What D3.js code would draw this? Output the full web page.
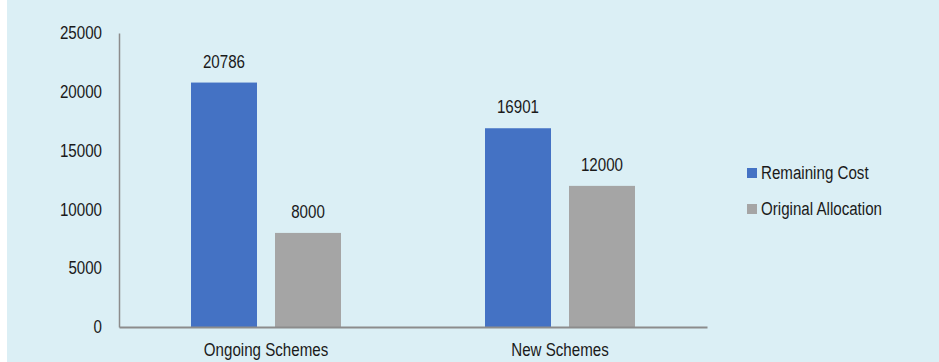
<!DOCTYPE html>
<html>
<head>
<meta charset="utf-8">
<script src="https://cdn.jsdelivr.net/npm/d3@7"></script>
<style>
  html, body { margin: 0; padding: 0; background: #ffffff; }
  svg { display: block; }
  text { font-family: "Liberation Sans Narrow", "Arial Narrow", "Liberation Sans", Arial, sans-serif; fill: #1a1a1a; }
</style>
</head>
<body>
<svg id="chart" width="939" height="362"></svg>
<script>
const categories = ["Ongoing Schemes", "New Schemes"];
const seriesNames = ["Remaining Cost", "Original Allocation"];
const remainingCost = [20786, 16901];
const originalAllocation = [8000, 12000];
const yTicks = [0, 5000, 10000, 15000, 20000, 25000];
const colors = ["#4472C4", "#A5A5A5"];

const svg = d3.select("#chart");
const W = 939, H = 362;

svg.append("rect").attr("x", 7).attr("y", 0).attr("width", W - 7).attr("height", H).attr("fill", "#DBEFF5");

const margin = { left: 119, right: 707, top: 33, bottom: 327 };
const x0 = d3.scaleBand().domain(categories).range([margin.left, margin.right]).paddingInner(0).paddingOuter(0);
const x1 = d3.scaleBand().domain(seriesNames).range([x0.bandwidth() / 2 - 75, x0.bandwidth() / 2 + 75]).paddingInner(18 / 84).paddingOuter(0);
const y = d3.scaleLinear().domain([0, 25000]).range([margin.bottom, margin.top]);

const data = categories.map((c, i) => ({
  cat: c,
  vals: [
    { s: seriesNames[0], v: remainingCost[i], color: colors[0] },
    { s: seriesNames[1], v: originalAllocation[i], color: colors[1] }
  ]
}));

const groups = svg.append("g").selectAll("g").data(data).join("g")
  .attr("transform", d => `translate(${x0(d.cat)},0)`);

groups.selectAll("rect").data(d => d.vals).join("rect")
  .attr("x", d => x1(d.s))
  .attr("width", x1.bandwidth())
  .attr("y", d => y(d.v))
  .attr("height", d => y(0) - y(d.v))
  .attr("fill", d => d.color);

groups.selectAll("text.val").data(d => d.vals).join("text")
  .attr("class", "val")
  .attr("x", d => x1(d.s) + x1.bandwidth() / 2)
  .attr("y", d => y(d.v) - 15)
  .attr("text-anchor", "middle")
  .attr("font-size", 18)
  .text(d => d.v);

// Y axis
const yAxis = d3.axisLeft(y).tickValues(yTicks).tickSize(0).tickPadding(17).tickFormat(d3.format("d"));
const gy = svg.append("g").attr("transform", `translate(${margin.left},0)`).call(yAxis);
gy.select(".domain").attr("stroke", "#8c8c8c").attr("stroke-width", 1.5);
gy.selectAll("text").attr("font-size", 18).attr("fill", "#1a1a1a")
  .style("font-family", '"Liberation Sans Narrow", "Arial Narrow", "Liberation Sans", sans-serif');

// X axis
const xAxis = d3.axisBottom(x0).tickSize(0).tickPadding(16);
const gx = svg.append("g").attr("transform", `translate(0,${margin.bottom})`).call(xAxis);
gx.select(".domain").attr("stroke", "#8c8c8c").attr("stroke-width", 2);
gx.selectAll("text").attr("font-size", 18).attr("fill", "#1a1a1a")
  .style("font-family", '"Liberation Sans Narrow", "Arial Narrow", "Liberation Sans", sans-serif');

// Legend
const legend = svg.append("g").attr("transform", "translate(747,168)");
const li = legend.selectAll("g").data(seriesNames).join("g")
  .attr("transform", (d, i) => `translate(0,${i * 36})`);
li.append("rect").attr("width", 10).attr("height", 10).attr("fill", (d, i) => colors[i]);
li.append("text").attr("x", 14).attr("y", 5).attr("dy", "0.35em").attr("font-size", 18).text(d => d);

// Condense text to mimic a narrow typeface
svg.selectAll("text").each(function () {
  const len = this.getComputedTextLength();
  d3.select(this).attr("textLength", (len * 0.84).toFixed(1)).attr("lengthAdjust", "spacingAndGlyphs");
});
</script>
</body>
</html>
